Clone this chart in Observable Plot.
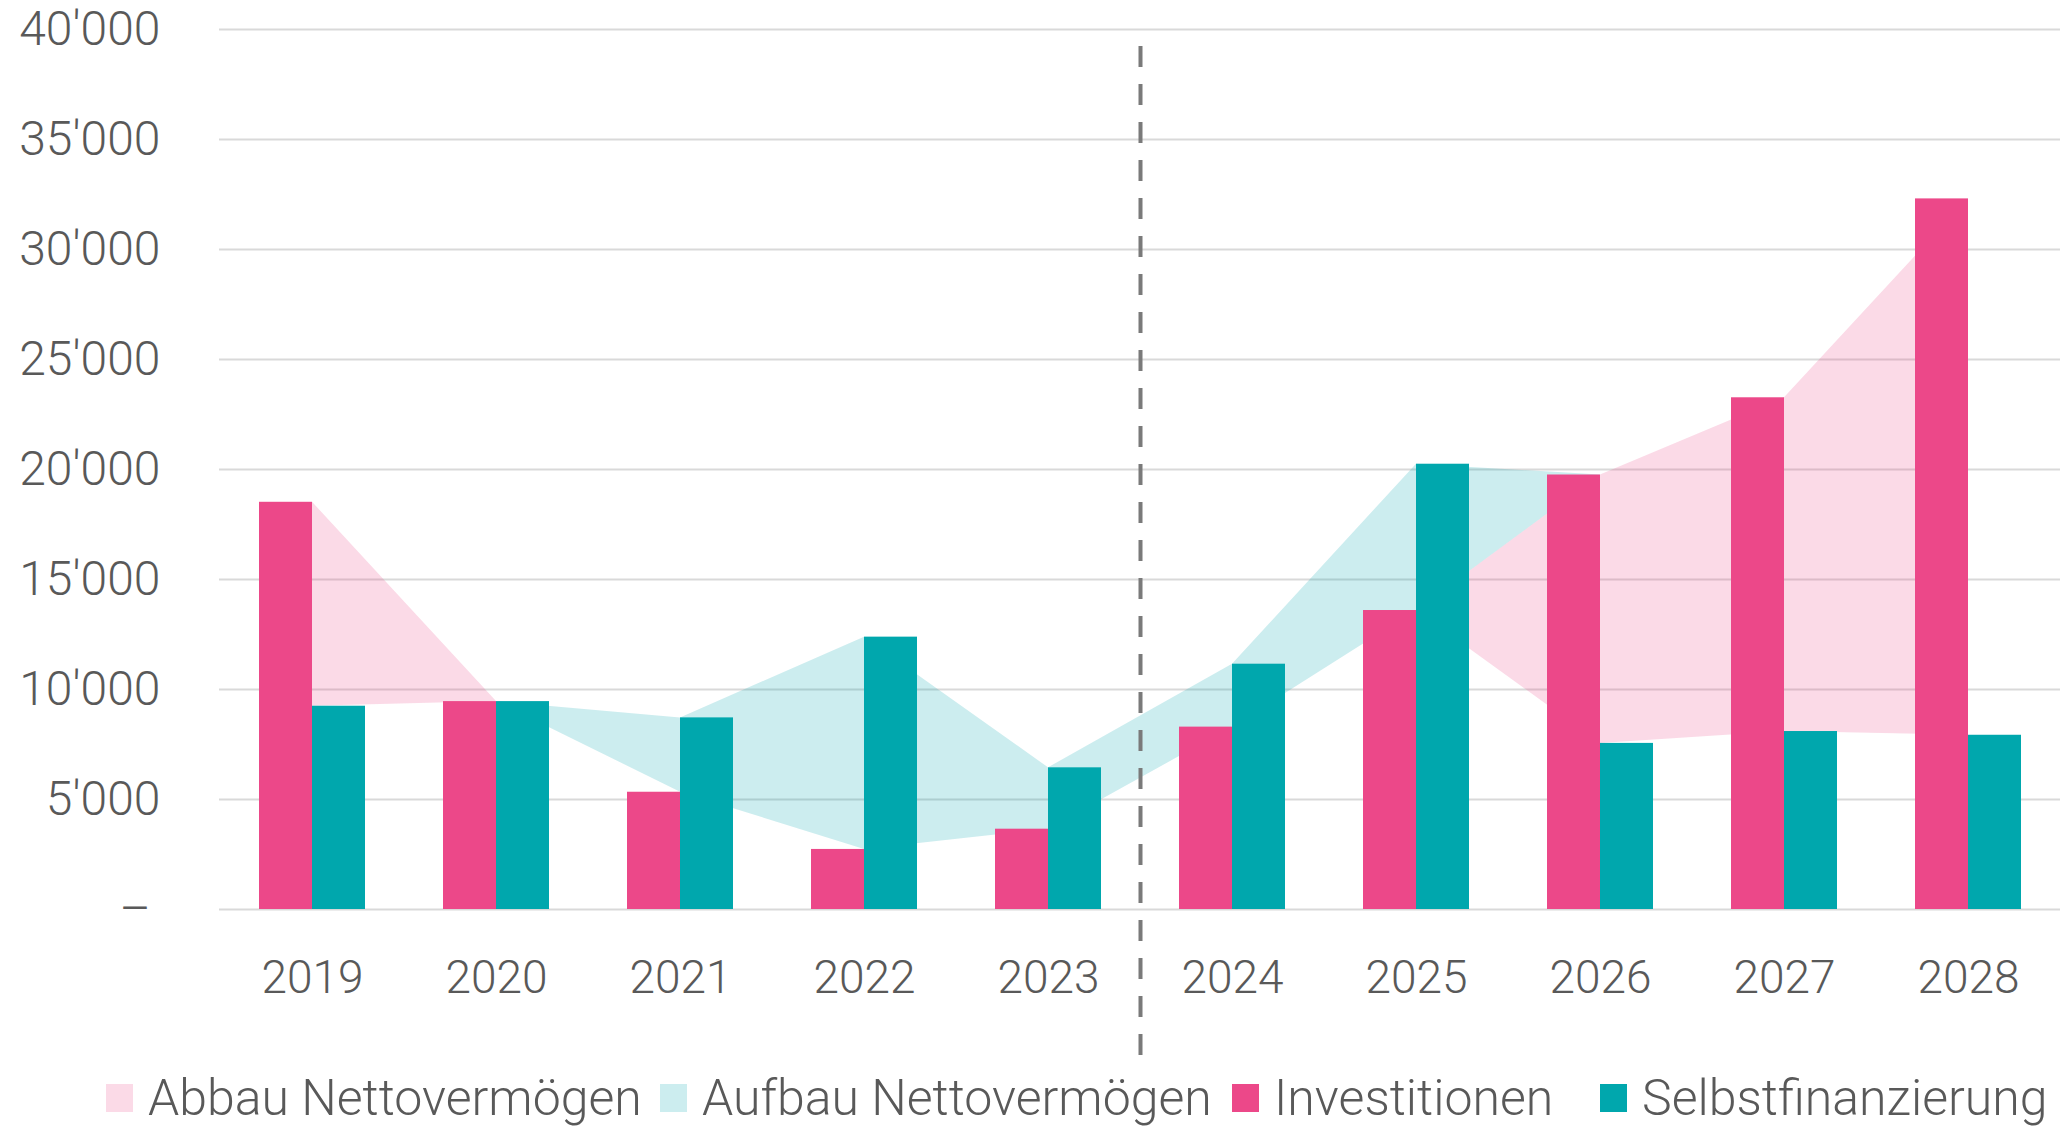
<!DOCTYPE html>
<html>
<head>
<meta charset="utf-8">
<script src="https://cdn.jsdelivr.net/npm/d3@7"></script>
<script src="https://cdn.jsdelivr.net/npm/@observablehq/plot@0.6"></script>
<style>
  html, body { margin: 0; padding: 0; background: #fff; }
  #wrap { position: relative; width: 2072px; height: 1126px; overflow: hidden; font-family: Roboto, "Noto Sans", sans-serif; }
  #legend { position: absolute; left: 0; top: 1062px; width: 2072px; height: 72px; }
  .item { position: absolute; top: 0; height: 72px; display: flex; align-items: center; white-space: nowrap;
          font-size: 50px; font-weight: 300; color: #595959; }
  .sw { width: 27px; height: 28px; margin-right: 15px; flex: none; }
  #chart [aria-label="y-axis tick label"], #chart [aria-label="y-axis"] { font-size: 48px; }
</style>
</head>
<body>
<div id="wrap">
  <div id="chart"></div>
  <div id="legend"></div>
</div>
<script>
// ---- data ----
const years = ["2019", "2020", "2021", "2022", "2023", "2024", "2025", "2026", "2027", "2028"];
const investitionen = [18510, 9450, 5330, 2730, 3650, 8290, 13590, 19750, 23260, 32300];
const selbstfinanzierung = [9240, 9450, 8710, 12380, 6440, 11150, 20240, 7550, 8090, 7920];
const yTicks = [0, 5000, 10000, 15000, 20000, 25000, 30000, 35000, 40000];
const dividerAfter = "2023";
const seriesNames = ["Abbau Nettovermögen", "Aufbau Nettovermögen", "Investitionen", "Selbstfinanzierung"];

const PINK = "#EC4889";
const TEAL = "#00A7AD";

// table built from the arrays (stacked bands between the two series)
const rows = years.map((year, i) => {
  const inv = investitionen[i], sf = selbstfinanzierung[i];
  const lo = Math.min(inv, sf);
  const abbauHi = lo + Math.max(inv - sf, 0);
  const aufbauHi = abbauHi + Math.max(sf - inv, 0);
  return {year, inv, sf, lo, abbauHi, aufbauHi};
});

const fmt = d3.formatLocale({decimal: ".", thousands: "'", grouping: [3], currency: ["", ""]}).format(",");
const yFormat = d => d === 0 ? "\u2013\u2009" : fmt(d);

const chart = Plot.plot({
  width: 2072,
  height: 1062,
  marginTop: 29,
  marginBottom: 153,
  marginLeft: 219,
  marginRight: 12,
  style: {fontFamily: "Roboto, 'Noto Sans', sans-serif", fontSize: "46px", fontWeight: 300, color: "#595959", background: "transparent", overflow: "visible"},
  x: {domain: years, padding: 0, label: null, tickSize: 0, tickPadding: 51},
  y: {domain: [0, 40000], ticks: yTicks, tickFormat: yFormat, tickSize: 0, tickPadding: 59, label: null},
  marks: [
    Plot.ruleY(yTicks, {stroke: "#D9D9D9", strokeWidth: 2}),
    Plot.areaY(rows, {x: "year", y1: "lo", y2: "abbauHi", fill: PINK, fillOpacity: 0.2, curve: "linear"}),
    Plot.areaY(rows, {x: "year", y1: "abbauHi", y2: "aufbauHi", fill: TEAL, fillOpacity: 0.2, curve: "linear"}),
    Plot.barY(rows, {x: "year", y: "inv", fill: PINK, insetLeft: 39, insetRight: 92}),
    Plot.barY(rows, {x: "year", y: "sf", fill: TEAL, insetLeft: 92, insetRight: 39}),
    Plot.ruleX([dividerAfter], {dx: 92, stroke: "#7A7A7A", strokeWidth: 4, strokeDasharray: "21,17", insetTop: 17, insetBottom: -148})
  ]
});
document.getElementById("chart").appendChild(chart);

// legend
const legendColors = [PINK, TEAL, PINK, TEAL];
const legendOpacity = [0.2, 0.2, 1, 1];
const legendLeft = [106, 660, 1232, 1600];
const legend = document.getElementById("legend");
seriesNames.forEach((name, i) => {
  const item = document.createElement("div");
  item.className = "item";
  item.style.left = legendLeft[i] + "px";
  const sw = document.createElement("span");
  sw.className = "sw";
  sw.style.background = legendColors[i];
  sw.style.opacity = legendOpacity[i];
  const t = document.createElement("span");
  t.textContent = name;
  item.appendChild(sw);
  item.appendChild(t);
  legend.appendChild(item);
});
</script>
</body>
</html>
